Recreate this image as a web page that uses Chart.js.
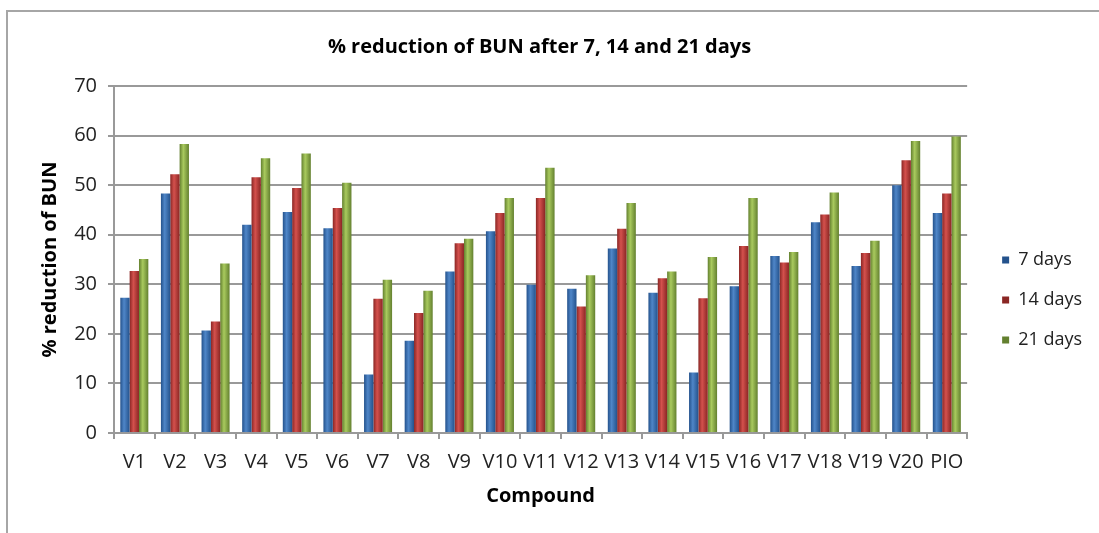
<!DOCTYPE html>
<html lang="en">
<head>
    <meta charset="UTF-8">
    <title>% reduction of BUN after 7, 14 and 21 days</title>
    <script src="https://cdn.jsdelivr.net/npm/chart.js"></script>
    <style>
        body {
            margin: 0;
            padding: 0;
            background-color: #ffffff;
        }

        .frame {
            position: absolute;
            left: 6px;
            top: 10px;
            width: 1200px;
            height: 600px;
            border-left: 2px solid #a6a6a6;
            border-top: 2px solid #a6a6a6;
        }

        .chart-container {
            position: absolute;
            left: 0;
            top: 0;
            width: 1099px;
            height: 533px;
        }
    </style>
</head>
<body>
    <div class="frame"></div>
    <div class="chart-container">
        <canvas id="bunChart"></canvas>
    </div>
    <script>
        const compounds = ['V1', 'V2', 'V3', 'V4', 'V5', 'V6', 'V7', 'V8', 'V9', 'V10', 'V11',
                           'V12', 'V13', 'V14', 'V15', 'V16', 'V17', 'V18', 'V19', 'V20', 'PIO'];
        const days7  = [27.3, 48.3, 20.7, 42.0, 44.6, 41.3, 11.8, 18.6, 32.6, 40.7, 29.9,
                        29.1, 37.2, 28.3, 12.2, 29.6, 35.7, 42.5, 33.7, 50.0, 44.4];
        const days14 = [32.7, 52.2, 22.5, 51.6, 49.4, 45.4, 27.1, 24.2, 38.3, 44.4, 47.4,
                        25.5, 41.2, 31.2, 27.2, 37.7, 34.4, 44.1, 36.3, 55.0, 48.3];
        const days21 = [35.1, 58.3, 34.2, 55.4, 56.4, 50.5, 30.9, 28.7, 39.2, 47.4, 53.5,
                        31.8, 46.4, 32.6, 35.5, 47.4, 36.5, 48.5, 38.8, 58.9, 59.8];
        const seriesNames = ['7 days', '14 days', '21 days'];

        const groupPct = 0.69;
        const gridColor = '#999999';
        const fontFamily = "'Open Sans', 'Noto Sans', sans-serif";

        // horizontal shading so each bar looks like the rounded office-style column
        function barShade(dark, light) {
            return function(context) {
                const chart = context.chart;
                const xs = chart.scales.x;
                if (!xs || !chart.chartArea || context.dataIndex === undefined) return light;
                const catW = xs.width / compounds.length;
                const barW = catW * groupPct / 3;
                const cx = xs.getPixelForValue(context.dataIndex) + (context.datasetIndex - 1) * barW;
                if (!isFinite(cx) || !isFinite(barW) || barW <= 0) return light;
                const g = chart.ctx.createLinearGradient(cx - barW / 2, 0, cx + barW / 2, 0);
                g.addColorStop(0, dark);
                g.addColorStop(0.4, light);
                g.addColorStop(1, dark);
                return g;
            };
        }

        // nudge the legend to where the original puts it
        const legendShift = {
            id: 'legendShift',
            afterLayout(chart) {
                const l = chart.legend;
                l.left += 13;
                l.right += 13;
                l.top += 40.5;
                l.bottom += 40.5;
            }
        };

        const ctx = document.getElementById('bunChart').getContext('2d');
        new Chart(ctx, {
            type: 'bar',
            data: {
                labels: compounds,
                datasets: [
                    {
                        label: seriesNames[0],
                        data: days7,
                        backgroundColor: barShade('#24528c', '#4f86c8'),
                        borderWidth: 0
                    },
                    {
                        label: seriesNames[1],
                        data: days14,
                        backgroundColor: barShade('#8a2624', '#d4514d'),
                        borderWidth: 0
                    },
                    {
                        label: seriesNames[2],
                        data: days21,
                        backgroundColor: barShade('#63802f', '#a9ca5e'),
                        borderWidth: 0
                    }
                ]
            },
            options: {
                responsive: true,
                maintainAspectRatio: false,
                animation: false,
                categoryPercentage: groupPct,
                barPercentage: 1.0,
                layout: {
                    padding: { left: 0, right: 20, top: 0, bottom: 0 }
                },
                scales: {
                    x: {
                        grid: {
                            offset: true,
                            drawOnChartArea: false,
                            drawTicks: true,
                            tickLength: 6,
                            color: gridColor,
                            lineWidth: 2
                        },
                        border: { color: gridColor, width: 2 },
                        ticks: {
                            color: '#222',
                            padding: 11,
                            maxRotation: 0,
                            autoSkip: false,
                            font: { family: fontFamily, size: 20 }
                        },
                        title: {
                            display: true,
                            text: 'Compound',
                            color: '#000',
                            padding: { top: 0, bottom: 25 },
                            font: { family: fontFamily, size: 20, weight: 'bold' }
                        },
                        afterFit(scale) { scale.height = 100; }
                    },
                    y: {
                        min: 0,
                        max: 70,
                        grid: {
                            color: gridColor,
                            lineWidth: 2,
                            tickLength: 6
                        },
                        border: { color: gridColor, width: 2 },
                        ticks: {
                            stepSize: 10,
                            color: '#222',
                            padding: 11,
                            font: { family: fontFamily, size: 20 }
                        },
                        title: {
                            display: true,
                            text: '% reduction of BUN',
                            color: '#000',
                            padding: { top: 38, bottom: 0 },
                            font: { family: fontFamily, size: 20, weight: 'bold' }
                        },
                        afterFit(scale) { scale.width = 114; }
                    }
                },
                plugins: {
                    title: {
                        display: true,
                        text: '% reduction of BUN after 7, 14 and 21 days',
                        color: '#000',
                        padding: { top: 35, bottom: 27 },
                        font: { family: fontFamily, size: 20, weight: 'bold' }
                    },
                    legend: {
                        position: 'right',
                        fullSize: false,
                        labels: {
                            boxWidth: 7,
                            boxHeight: 7,
                            padding: 22,
                            color: '#222',
                            font: { family: fontFamily, size: 18 }
                        }
                    },
                    tooltip: { enabled: false }
                }
            },
            plugins: [legendShift]
        });
    </script>
</body>
</html>
